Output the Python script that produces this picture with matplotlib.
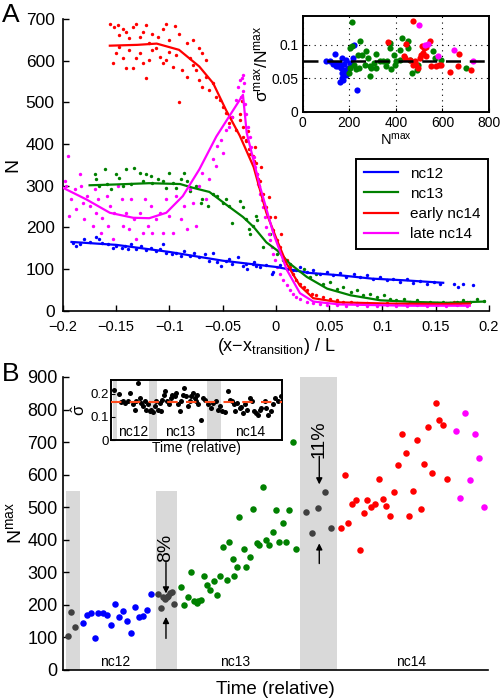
import matplotlib
matplotlib.use('Agg')
import matplotlib.pyplot as plt
from matplotlib.lines import Line2D

plt.rcParams['font.family'] = ['Liberation Sans', 'DejaVu Sans']
plt.rcParams['mathtext.fontset'] = 'custom'
plt.rcParams['mathtext.rm'] = 'Liberation Sans'
plt.rcParams['mathtext.it'] = 'Liberation Sans:italic'
plt.rcParams['mathtext.default'] = 'regular'

# ---------------- Panel A data ----------------
series_names = ['nc12', 'nc13', 'early nc14', 'late nc14']
series_colors = ['#0000ff', '#008000', '#ff0000', '#ff00ff']

nc12_x = [-0.191, -0.188, -0.184, -0.180, -0.175, -0.169, -0.166, -0.163, -0.158, -0.153,
          -0.150, -0.145, -0.142, -0.139, -0.136, -0.131, -0.127, -0.122, -0.117, -0.113,
          -0.109, -0.106, -0.103, -0.098, -0.094, -0.089, -0.086, -0.081, -0.077, -0.072,
          -0.067, -0.063, -0.059, -0.055, -0.052, -0.047, -0.044, -0.041, -0.036, -0.031,
          -0.027, -0.022, -0.019,
          -0.028, -0.021, -0.015, -0.009, -0.004, -0.003, 0.004, 0.010, 0.016, 0.023,
          0.029, 0.035, 0.041, 0.048, 0.054, 0.060, 0.066, 0.073, 0.079, 0.085,
          0.091, 0.098, 0.104, 0.110, 0.116, 0.123, 0.129, 0.135, 0.142, 0.148,
          0.154, 0.167, 0.171, 0.176, 0.185]
nc12_y = [163, 155, 159, 171, 165, 178, 171, 163, 159, 151,
          155, 151, 155, 147, 159, 149, 155, 146, 151, 143,
          147, 159, 139, 135, 139, 131, 143, 131, 139, 128,
          135, 120, 139, 116, 108, 120, 124, 112, 128, 108,
          100, 112, 108,
          113, 117, 105, 109, 89, 93, 109, 101, 97, 105,
          93, 97, 89, 93, 85, 91, 81, 88, 81, 85,
          77, 81, 73, 77, 69, 75, 67, 72, 65, 69,
          64, 65, 57, 65, 61]
nc12_fit_x = [-0.192, -0.15, -0.1, -0.05, -0.03, 0.0, 0.03, 0.06, 0.09, 0.12, 0.157]
nc12_fit_y = [165, 158, 141, 120, 114, 105, 91, 85, 77, 73, 67]

nc13_x = [-0.170, -0.169, -0.166, -0.161, -0.159, -0.155, -0.150, -0.147, -0.144, -0.141,
          -0.136, -0.133, -0.128, -0.125, -0.122, -0.117, -0.116, -0.111, -0.106, -0.103,
          -0.100, -0.097, -0.094, -0.089, -0.086, -0.084, -0.081, -0.075, -0.070, -0.069,
          -0.064, -0.059, -0.055, -0.050, -0.047, -0.044, -0.041, -0.034, -0.028, -0.025,
          -0.022, -0.019,
          -0.031, -0.024, -0.018, -0.012, -0.006, 0.001, 0.007, 0.013, 0.019, 0.026,
          0.032, 0.038, 0.044, 0.051, 0.057, 0.063, 0.070, 0.076, 0.082, 0.088,
          0.095, 0.101, 0.107, 0.113, 0.120, 0.126, 0.132, 0.138, 0.145, 0.151,
          0.157, 0.163, 0.170, 0.176, 0.182, 0.189, 0.195]
nc13_y = [327, 315, 299, 339, 303, 291, 327, 319, 299, 339,
          303, 343, 331, 311, 327, 323, 307, 315, 311, 295,
          331, 307, 295, 315, 331, 311, 287, 299, 259, 267,
          251, 279, 275, 259, 267, 251, 211, 263, 219, 195,
          203, 227,
          249, 185, 217, 153, 185, 137, 121, 113, 97, 101,
          81, 89, 65, 69, 53, 57, 45, 49, 37, 41,
          33, 37, 29, 26, 29, 22, 26, 19, 22, 18,
          22, 18, 22, 26, 22, 27, 23]
nc13_fit_x = [-0.175, -0.15, -0.119, -0.09, -0.078, -0.0625, -0.047, -0.031, -0.021, -0.009,
              0.001, 0.013, 0.029, 0.048, 0.07, 0.098, 0.129, 0.16, 0.196]
nc13_fit_y = [301, 303, 306, 304, 295, 285, 255, 225, 201, 164,
              145, 113, 81, 53, 37, 25, 21, 19, 22]

early14_x = [-0.156, -0.152, -0.148, -0.147, -0.144, -0.141, -0.138, -0.134, -0.131, -0.128,
             -0.125, -0.122, -0.119, -0.116, -0.111, -0.106, -0.103, -0.100, -0.095, -0.091,
             -0.084, -0.078, -0.072, -0.069, -0.066,
             -0.153, -0.150, -0.147, -0.144, -0.141, -0.138, -0.134, -0.131, -0.128, -0.125,
             -0.122, -0.119, -0.116, -0.113, -0.109, -0.106, -0.103, -0.100, -0.097, -0.094,
             -0.091, -0.088, -0.084, -0.081, -0.078, -0.075, -0.072, -0.069, -0.066, -0.063,
             -0.059, -0.056, -0.053, -0.050, -0.047, -0.044, -0.041, -0.038, -0.034, -0.031,
             -0.028, -0.025, -0.022, -0.019, -0.017, -0.016,
             -0.034, -0.031, -0.028, -0.024, -0.021, -0.018, -0.015, -0.012, -0.009, -0.006,
             -0.003, 0.001, 0.004, 0.007, 0.010, 0.013, 0.016, 0.019, 0.023, 0.026,
             0.029, 0.034, 0.038, 0.044, 0.051, 0.057, 0.063, 0.070, 0.076, 0.085,
             0.095, 0.104, 0.113, 0.123, 0.132, 0.142, 0.151, 0.160, 0.167, 0.173,
             0.179, -0.032, -0.026, -0.020, -0.014, -0.007, -0.001, 0.005]
early14_y = [689, 681, 685, 662, 677, 669, 654, 681, 689, 658,
             669, 685, 642, 665, 658, 677, 689, 650, 683, 665,
             642, 650, 630, 618, 602,
             594, 618, 634, 606, 582, 626, 582, 606, 618, 594,
             558, 602, 626, 630, 610, 594, 602, 622, 586, 614,
             502, 578, 562, 606, 590, 578, 554, 538, 562, 530,
             546, 514, 506, 490, 474, 450, 466, 434, 458, 418,
             410, 387, 371, 355, 315, 299,
             472, 440, 408, 376, 360, 328, 312, 281, 249, 225,
             193, 169, 153, 129, 121, 105, 89, 73, 65, 57,
             49, 41, 37, 33, 29, 26, 22, 22, 19, 18,
             16, 18, 16, 14, 16, 14, 16, 18, 22, 18,
             22, 504, 432, 392, 344, 273, 225, 185]
early14_fit_x = [-0.156, -0.13, -0.112, -0.091, -0.072, -0.059, -0.047, -0.034, -0.021, -0.009,
                 0.001, 0.010, 0.0225, 0.035, 0.06, 0.107, 0.154, 0.182]
early14_fit_y = [636, 638, 641, 626, 586, 546, 482, 420, 345, 235,
                 169, 113, 60, 30, 20, 17, 16, 17]

late14_x = [-0.198, -0.197, -0.195, -0.194, -0.192, -0.189, -0.188, -0.184, -0.183, -0.181,
            -0.180, -0.177, -0.175, -0.172, -0.170, -0.169, -0.167, -0.164, -0.163, -0.159,
            -0.158, -0.156, -0.153, -0.152, -0.148, -0.145, -0.144, -0.141, -0.138, -0.136,
            -0.133, -0.131, -0.128, -0.125, -0.123, -0.120, -0.117, -0.116, -0.113, -0.109,
            -0.106, -0.103, -0.100, -0.097, -0.094, -0.089, -0.086, -0.084, -0.081, -0.078,
            -0.075, -0.072, -0.069, -0.066, -0.063, -0.059, -0.056, -0.055, -0.052, -0.050,
            -0.047, -0.044, -0.041, -0.038, -0.036, -0.034, -0.033, -0.031, -0.030,
            -0.032, -0.031, -0.029, -0.028, -0.026, -0.024, -0.023, -0.021, -0.020, -0.018,
            -0.017, -0.015, -0.013, -0.012, -0.010, -0.009, -0.007, -0.006, -0.004, -0.003,
            -0.001, 0.001, 0.004, 0.007, 0.010, 0.013, 0.016, 0.019, 0.023, 0.029,
            0.035, 0.041, 0.048, 0.057, 0.066, 0.076, 0.085, 0.095, 0.104, 0.113,
            0.123, 0.132, 0.142, 0.151, 0.160, 0.170, 0.179]
late14_y = [311, 299, 371, 227, 267, 291, 243, 327, 299, 259,
            219, 275, 251, 203, 291, 235, 267, 187, 223, 275,
            203, 251, 171, 235, 299, 267, 203, 235, 195, 267,
            219, 171, 235, 187, 267, 203, 251, 187, 219, 235,
            187, 267, 227, 187, 275, 219, 251, 195, 291, 259,
            203, 299, 331, 267, 315, 363, 347, 395, 410, 379,
            434, 442, 466, 506, 538, 554, 514, 566, 546,
            559, 528, 496, 472, 440, 416, 392, 368, 344, 328,
            304, 281, 265, 249, 225, 201, 185, 169, 153, 137,
            121, 105, 89, 73, 61, 49, 41, 33, 29, 22,
            18, 16, 14, 14, 11, 14, 11, 11, 14, 11,
            11, 14, 11, 14, 11, 14, 11]
late14_fit_x = [-0.2, -0.178, -0.156, -0.134, -0.119, -0.103, -0.0875, -0.072, -0.056, -0.04,
                -0.031, -0.0275, -0.015, -0.0025, 0.01, 0.0225, 0.035, 0.06, 0.124, 0.182]
late14_fit_y = [295, 267, 235, 223, 222, 235, 275, 339, 418, 482,
                518, 427, 298, 186, 99, 42, 22, 15, 12, 12]

# inset A: sigma_max / N_max vs N_max
ins_nc12_N = [100, 117, 131, 138, 145, 157, 163, 171, 177, 181, 186, 167, 160, 174, 170, 188,
              203, 217, 221, 195, 210, 234, 153, 143]
ins_nc12_s = [.075, .075, .071, .086, .0675, .071, .065, .080, .071, .0625, .055, .050, .045,
              .0475, .0575, .0775, .0725, .080, .099, .065, .070, .0325, .0675, .071]
ins_nc13_N = [214, 203, 210, 246, 238, 220, 228, 203, 200, 242,
              257, 271, 281, 267, 288, 295, 291, 314, 317, 305,
              331, 345, 357, 363, 374, 377, 381, 395, 391, 403,
              417, 425, 417, 452, 454, 460, 471, 491, 495, 559,
              567, 595, 702]
ins_nc13_s = [.134, .095, .0975, .106, .085, .070, .064, .065, .0575, .066,
              .085, .091, .080, .070, .0675, .065, .054, .086, .066, .0725,
              .076, .075, .0675, .075, .095, .1025, .064, .070, .085, .075,
              .0775, .110, .0925, .106, .095, .0775, .0575, .0625, .070, .090,
              .080, .0775, .065]
ins_e14_N = [474, 367, 442, 434, 438, 481, 488, 495, 502, 510, 516, 514, 520, 528, 545, 531,
             552, 574, 585, 595, 631, 671, 667, 724, 474, 460]
ins_e14_s = [.135, .1035, .101, .0825, .080, .075, .070, .065, .080, .085, .0875, .0975, .095,
             .096, .105, .0825, .0675, .0675, .070, .070, .060, .0855, .0675, .0625, .070, .0775]
ins_l14_N = [499, 524, 538, 581, 652, 731]
ins_l14_s = [.129, .100, .101, .0825, .0925, .076]
ins_mean_ratio = 0.0755

# ---------------- Panel B data ----------------
gray1_t = [4.4, 7.7, 11.7]
gray1_n = [105, 179, 133]
b_nc12_t = [19.7, 23.4, 27.7, 31.7, 35.0, 39.7, 43.7, 47.7, 51.7, 55.7, 59.7, 63.7, 67.7,
            71.7, 75.7, 79.7, 83.7, 87.4]
b_nc12_n = [143, 168, 174, 98, 174, 174, 168, 139, 202, 162, 180, 152, 113, 194, 163, 166,
            184, 233]
gray2_t = [94.7, 97.7, 100.0, 101.7, 103.4, 105.0, 106.7, 109.0, 111.0]
gray2_n = [233, 190, 223, 219, 225, 227, 235, 239, 202]
b_nc13_t = [117.7, 121.0, 124.4, 127.4, 131.0, 133.7, 135.0, 137.7, 140.4, 143.7,
            147.0, 150.4, 153.7, 157.0, 160.0, 163.7, 166.0, 170.0, 170.4, 173.7,
            176.0, 180.4, 183.0, 186.4, 189.4, 193.4, 196.0, 199.4, 202.7, 206.0,
            209.4, 212.7, 216.0, 219.4, 222.7, 226.0, 229.4, 232.7]
b_nc13_n = [254, 199, 225, 302, 213, 206, 211, 215, 288, 262,
            245, 272, 231, 290, 378, 276, 394, 340, 290, 317,
            470, 373, 315, 348, 494, 389, 385, 562, 399, 383,
            424, 491, 392, 453, 392, 491, 700, 373]
gray3_t = [242.7, 248.4, 255.0, 261.7, 267.4]
gray3_n = [486, 422, 498, 547, 435]
b_e14_t = [277.7, 281.7, 285.0, 289.0, 293.0, 296.7, 300.4, 303.7, 307.7, 311.7,
           315.7, 319.4, 323.0, 327.0, 330.7, 334.7, 338.7, 342.4, 346.0, 349.7,
           353.7, 357.7, 361.0, 365.0, 368.7, 372.4, 376.0, 380.0, 383.7]
b_e14_n = [435, 598, 450, 511, 521, 368, 481, 521, 501, 511,
           586, 524, 505, 473, 547, 631, 726, 668, 473, 550,
           706, 494, 632, 746, 606, 821, 767, 752, 586]
b_l14_t = [392.7, 397.0, 402.0, 406.7, 411.7, 416.0, 421.0]
b_l14_n = [734, 527, 789, 583, 724, 652, 501]
band_spans = [(2.7, 16.7, 550), (92.7, 113.7, 550), (236.7, 273.7, 900)]
cycle_labels = ['nc12', 'nc13', 'nc14']
cycle_label_t = [51.7, 171.7, 347.7]
pct_labels = ['8%', '11%']
pct_t = [102.7, 256.0]
pct_text_n = [376, 710]
pct_down = [(330, 235), (656, 570)]
pct_up = [(97, 163), (327, 389)]

# inset B: sigma-hat vs time
ib_t = [3, 8, 9.7, 12, 14.3, 17, 19.3, 22, 23.7, 25.3, 27, 28.7, 30.3, 32, 33.7, 35.3, 37,
        38.7, 40.3, 42, 43.7, 45.3, 47, 48.7, 50.3, 51, 53, 54.3, 56.3, 57.7, 59.7, 61, 63.7,
        65.3, 67, 68.7, 70.3, 72, 73, 75.3, 77, 78.7, 80.3, 82, 84.3, 86.3,
        85, 87.3, 90, 92.3, 94, 97.3, 100, 102.3, 104.7, 107.3, 109, 111.3, 114, 117.3,
        119, 120.7, 123.3, 124.7, 126.7, 129, 130.7, 132.3, 134, 136.7, 139, 141.3, 143.3,
        145.7, 147.3, 149, 150.7, 154, 155.7, 157.3, 160, 162.3, 164, 167.3, 170]
ib_s = [0.219, 0.200, 0.165, 0.171, 0.161, 0.171, 0.203, 0.157, 0.132, 0.168, 0.249, 0.183,
        0.161, 0.146, 0.168, 0.132, 0.154, 0.125, 0.132, 0.122, 0.146, 0.168, 0.132, 0.161,
        0.125, 0.175, 0.197, 0.212, 0.168, 0.154, 0.180, 0.197, 0.190, 0.204, 0.154, 0.125,
        0.168, 0.197, 0.226, 0.190, 0.146, 0.168, 0.190, 0.204, 0.183, 0.194,
        0.168, 0.154, 0.088, 0.183, 0.175, 0.154, 0.139, 0.161, 0.168, 0.132, 0.146, 0.125,
        0.122, 0.212, 0.175, 0.168, 0.154, 0.125, 0.161, 0.139, 0.142, 0.117, 0.154, 0.132,
        0.183, 0.168, 0.125, 0.117, 0.107, 0.132, 0.139, 0.168, 0.139, 0.110, 0.125, 0.154,
        0.183, 0.168, 0.190]
ib_bands = [(1.7, 6.3), (37.7, 45.7), (95.7, 110.0)]
ib_label_t = [22, 69, 139]
ib_mean = 0.165

# ---------------- Figure ----------------
fig = plt.figure(figsize=(5.01, 6.99), dpi=100)

def style_spines(ax, lw=1.2, box=False):
    for side in ['top', 'right']:
        ax.spines[side].set_visible(box)
    for sp in ax.spines.values():
        sp.set_linewidth(lw)

# Panel A main
axA = fig.add_axes([0.1257, 0.5555, 0.8503, 0.4173])
sc_x = [nc12_x, nc13_x, early14_x, late14_x]
sc_y = [nc12_y, nc13_y, early14_y, late14_y]
ft_x = [nc12_fit_x, nc13_fit_x, early14_fit_x, late14_fit_x]
ft_y = [nc12_fit_y, nc13_fit_y, early14_fit_y, late14_fit_y]
for xs, ys, fx, fy, c in zip(sc_x, sc_y, ft_x, ft_y, series_colors):
    axA.scatter(xs, ys, s=6, color=c, linewidths=0, zorder=2)
    axA.plot(fx, fy, color=c, lw=1.6, zorder=3)
axA.set_xlim(-0.2, 0.2)
axA.set_ylim(0, 700)
xt = [-0.2, -0.15, -0.1, -0.05, 0, 0.05, 0.1, 0.15, 0.2]
axA.set_xticks(xt)
axA.set_xticklabels(['\u22120.2', '\u22120.15', '\u22120.1', '\u22120.05', '0', '0.05', '0.1', '0.15', '0.2'])
axA.set_yticks(range(0, 701, 100))
axA.tick_params(axis='x', labelsize=10.5, direction='in', length=4, width=1, pad=7)
axA.tick_params(axis='y', labelsize=12.5, direction='in', length=4, width=1, pad=6)
style_spines(axA)
axA.set_xlabel('(x\u2212x$_{transition}$) / L', fontsize=13, labelpad=1)
axA.set_ylabel('N', fontsize=14, labelpad=3)

handles = [Line2D([], [], color=c, lw=1.6) for c in series_colors]
leg = axA.legend(handles, series_names, loc='upper right',
                 bbox_to_anchor=(488 / 501, 1 - 159 / 699), bbox_transform=fig.transFigure,
                 fancybox=False, edgecolor='black', fontsize=11, handlelength=2.2,
                 borderaxespad=0, labelspacing=0.4, framealpha=1, borderpad=0.5,
                 handletextpad=0.8)
leg.get_frame().set_linewidth(1.4)

# Inset A
axI = fig.add_axes([0.604, 0.8402, 0.372, 0.137])
ins_N = [ins_nc12_N, ins_nc13_N, ins_e14_N, ins_l14_N]
ins_s = [ins_nc12_s, ins_nc13_s, ins_e14_s, ins_l14_s]
for Ns, ss, c in zip(ins_N, ins_s, series_colors):
    axI.scatter(Ns, ss, s=20, color=c, linewidths=0, zorder=3)
axI.axhline(ins_mean_ratio, color='k', lw=1.8, ls=(0, (6, 3.5)), zorder=4)
axI.set_xlim(0, 800)
axI.set_ylim(0, 0.143)
axI.set_xticks([0, 200, 400, 600, 800])
axI.set_yticks([0, 0.05, 0.1])
axI.set_yticklabels(['0', '0.05', '0.1'])
axI.grid(True, ls=(0, (1, 4)), color='k', lw=0.8)
axI.tick_params(axis='x', labelsize=10, direction='in', length=3, pad=3)
axI.tick_params(axis='y', labelsize=10, direction='in', length=3, pad=3)
axI.set_xlabel('N$^{max}$', fontsize=10.5, labelpad=1)
axI.set_ylabel('$\\sigma^{max}$/N$^{max}$', fontsize=12.5, labelpad=1)
for sp in axI.spines.values():
    sp.set_linewidth(1.4)

# Panel B main
axB = fig.add_axes([0.1263, 0.0415, 0.8477, 0.4192])
for x0, x1, top in band_spans:
    axB.fill_between([x0, x1], 0, top, color='#d9d9d9', lw=0, zorder=1)
axB.scatter(gray1_t, gray1_n, s=22, color='#404040', linewidths=0, zorder=3)
axB.scatter(b_nc12_t, b_nc12_n, s=22, color=series_colors[0], linewidths=0, zorder=3)
axB.scatter(gray2_t, gray2_n, s=22, color='#404040', linewidths=0, zorder=3)
axB.scatter(b_nc13_t, b_nc13_n, s=22, color=series_colors[1], linewidths=0, zorder=3)
axB.scatter(gray3_t, gray3_n, s=22, color='#404040', linewidths=0, zorder=3)
axB.scatter(b_e14_t, b_e14_n, s=22, color=series_colors[2], linewidths=0, zorder=3)
axB.scatter(b_l14_t, b_l14_n, s=22, color=series_colors[3], linewidths=0, zorder=3)
for lab, t in zip(cycle_labels, cycle_label_t):
    axB.text(t, 25, lab, ha='center', va='center', fontsize=10)
for lab, t, tn, dn, up in zip(pct_labels, pct_t, pct_text_n, pct_down, pct_up):
    axB.text(t, tn, lab, rotation=90, ha='center', va='center', fontsize=14)
    axB.annotate('', xy=(t, dn[1]), xytext=(t, dn[0]),
                 arrowprops=dict(arrowstyle='-|>', color='k', lw=1, mutation_scale=9,
                                 shrinkA=0, shrinkB=0))
    axB.annotate('', xy=(t, up[1]), xytext=(t, up[0]),
                 arrowprops=dict(arrowstyle='-|>', color='k', lw=1, mutation_scale=9,
                                 shrinkA=0, shrinkB=0))
axB.set_xlim(0, 424.7)
axB.set_ylim(0, 900)
axB.set_xticks([])
axB.set_yticks(range(0, 901, 100))
axB.tick_params(axis='y', labelsize=13, direction='in', length=4, width=1, pad=4)
style_spines(axB)
axB.set_xlabel('Time (relative)', fontsize=13.5, labelpad=8)
axB.set_ylabel('N$^{max}$', fontsize=14, labelpad=2)

# Inset B
axBI = fig.add_axes([0.2216, 0.3705, 0.3407, 0.0858])
for x0, x1 in ib_bands:
    axBI.fill_between([x0, x1], 0, 0.26, color='#d9d9d9', lw=0, zorder=1)
axBI.scatter(ib_t, ib_s, s=13, color='k', linewidths=0, zorder=3)
axBI.axhline(ib_mean, color='#ff4a1c', lw=1.5, ls=(0, (5, 4)), zorder=4)
for lab, t in zip(cycle_labels, ib_label_t):
    axBI.text(t, 0.035, lab, ha='center', va='center', fontsize=10)
axBI.set_xlim(0, 171)
axBI.set_ylim(0, 0.26)
axBI.set_xticks([])
axBI.set_yticks([0, 0.1, 0.2])
axBI.set_yticklabels(['0', '0.1', '0.2'])
axBI.tick_params(axis='y', labelsize=9.5, direction='in', length=3, pad=1.5)
axBI.set_xlabel('Time (relative)', fontsize=10, labelpad=1)
axBI.set_ylabel('$\\hat{\\sigma}$', fontsize=12, labelpad=2)
for sp in axBI.spines.values():
    sp.set_linewidth(1.4)

fig.text(0.004, 0.995, 'A', fontsize=19, va='top', ha='left')
fig.text(0.004, 1 - 362 / 699, 'B', fontsize=19, va='top', ha='left')

fig.savefig('out.png', dpi=100)
